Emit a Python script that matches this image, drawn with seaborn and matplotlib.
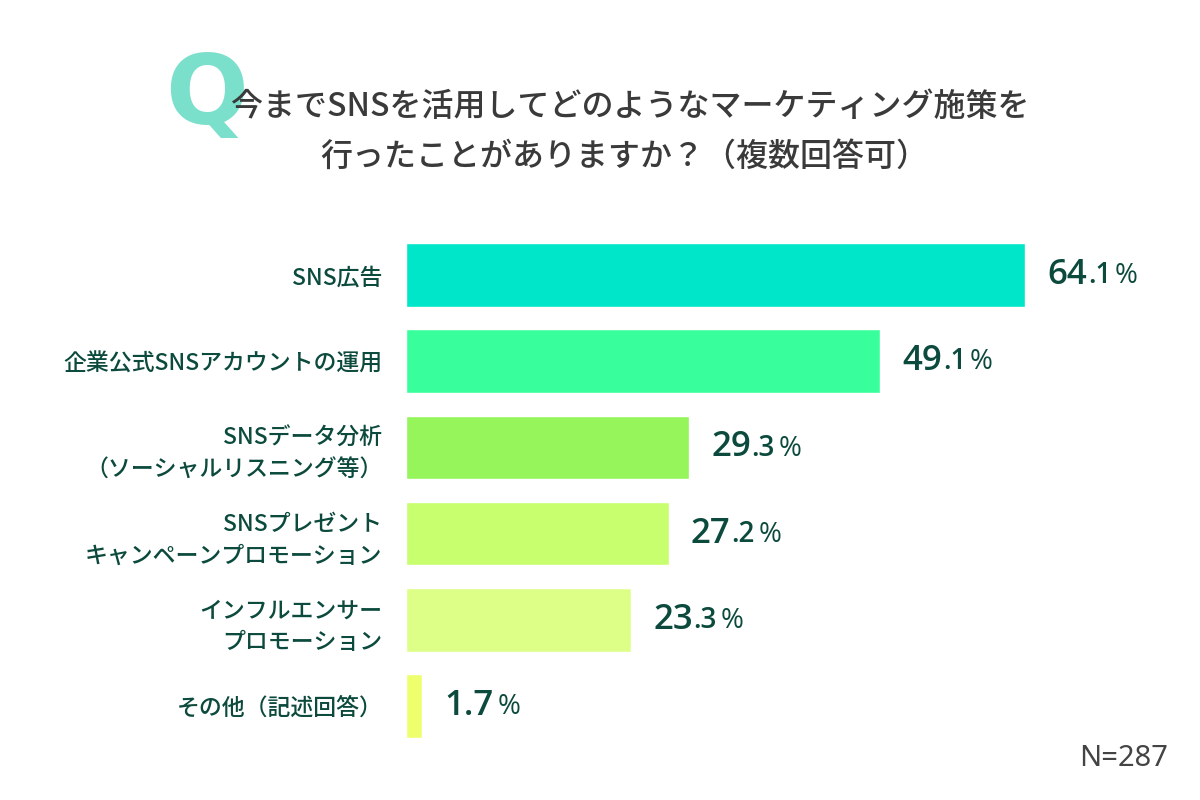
import matplotlib
matplotlib.use("Agg")
import matplotlib.pyplot as plt
import seaborn as sns

# data
categories = [
    "SNS広告",
    "企業公式SNSアカウントの運用",
    "SNSデータ分析\n（ソーシャルリスニング等）",
    "SNSプレゼント\nキャンペーンプロモーション",
    "インフルエンサー\nプロモーション",
    "その他（記述回答）",
]
values = [64.1, 49.1, 29.3, 27.2, 23.3, 1.7]
colors = ["#00E6C8", "#38FF9C", "#96F55A", "#C8FF6E", "#DDFF88", "#EEFF6E"]

sns.set_theme(style="white")
plt.rcParams["font.family"] = ["Noto Sans CJK JP", "DejaVu Sans"]

label_color = "#0B4A3C"
title_color = "#3A3A3A"

fig = plt.figure(figsize=(12, 8), dpi=100)
ax = fig.add_axes([406 / 1200, 1 - 749 / 800, (1160 - 406) / 1200, (749 - 232) / 800])

sns.barplot(x=values, y=categories, hue=categories, palette=colors,
            legend=False, width=0.74, ax=ax, orient="h", saturation=1)

ax.set_xlim(0, (1160 - 406) / 9.66)
ax.set_ylim(5.5, -0.5)
for s in ax.spines.values():
    s.set_visible(False)
ax.set_xticks([])
ax.set_xlabel("")
ax.set_ylabel("")
ax.tick_params(axis="y", length=0, pad=17)
for lab in ax.get_yticklabels():
    lab.set_fontsize(16.5)
    lab.set_color(label_color)
    lab.set_fontweight("medium")
    lab.set_ha("right")
    lab.set_linespacing(1.5)

# value labels: big integer part, smaller decimals and percent
vfont = "Open Sans"
for i, v in enumerate(values):
    s = f"{v:.1f}"
    ip, dp = s.split(".")
    if v < 10:
        big, small = s, ""
    else:
        big, small = ip, "." + dp
    t1 = ax.text(v + 2.3, i, big, fontsize=25, color=label_color,
                 fontfamily=vfont, fontweight="semibold",
                 va="center", ha="left")
    prev = t1
    if small:
        prev = ax.annotate(small, xy=(1, 0), xycoords=t1, xytext=(0.5, 1.3),
                           textcoords="offset points", fontsize=20,
                           color=label_color, fontfamily=vfont,
                           fontweight="semibold", va="bottom", ha="left")
    ax.annotate("%", xy=(1, 0), xycoords=prev,
                xytext=(2.5, 1.3 if not small else 0),
                textcoords="offset points", fontsize=20, color=label_color,
                fontfamily=vfont, fontweight="normal",
                va="bottom", ha="left")

# title
fig.text(207 / 1200, 1 - 98 / 800, "Q", fontsize=70, fontweight="bold",
         color="#7ADFCB", fontfamily="DejaVu Sans", ha="center", va="center")
fig.text(630 / 1200, 1 - 107 / 800,
         "今までSNSを活用してどのようなマーケティング施策を",
         fontsize=23, fontweight="medium", color=title_color,
         ha="center", va="center")
fig.text(624 / 1200, 1 - 157 / 800,
         "行ったことがありますか？（複数回答可）",
         fontsize=23, fontweight="medium", color=title_color,
         ha="center", va="center")

fig.text(1168 / 1200, 1 - 759 / 800, "N=287", fontsize=21,
         fontfamily="Noto Sans", color="#444444", ha="right", va="center")

fig.savefig("out.png", dpi=100, facecolor="white")
